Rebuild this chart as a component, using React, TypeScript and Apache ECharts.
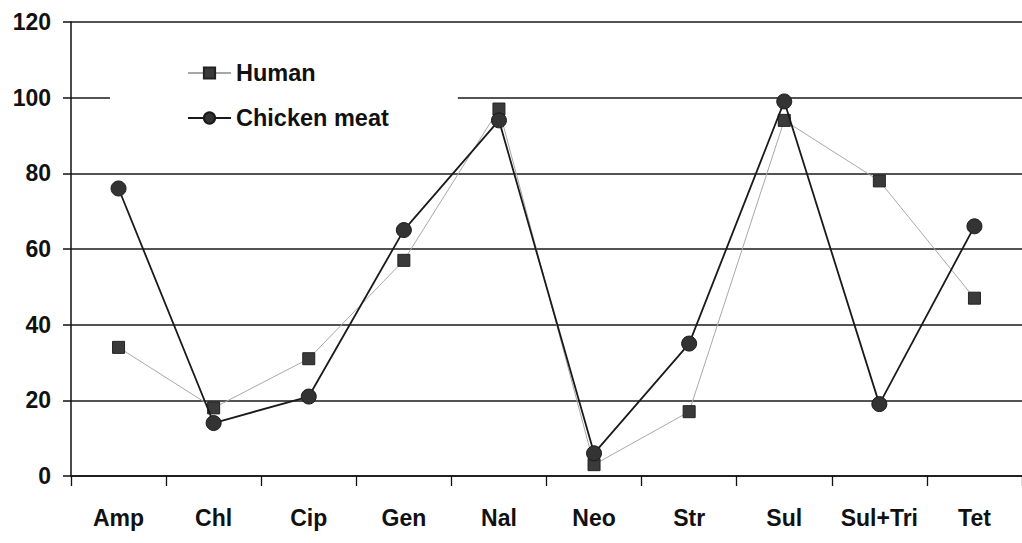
import React, { useEffect, useRef } from "react";
import * as echarts from "echarts";

const categories = ["Amp", "Chl", "Cip", "Gen", "Nal", "Neo", "Str", "Sul", "Sul+Tri", "Tet"];
const humanValues = [34, 18, 31, 57, 97, 3, 17, 94, 78, 47];
const chickenValues = [76, 14, 21, 65, 94, 6, 35, 99, 19, 66];
const yTicks = { min: 0, max: 120, interval: 20 };

const REG = '"Liberation Sans", Arial, sans-serif';

export default function App() {
  const ref = useRef<HTMLDivElement>(null);
  useEffect(() => {
    if (!ref.current) return;
    const chart = echarts.init(ref.current, undefined, { renderer: "svg" });
    chart.setOption({
      animation: false,
      backgroundColor: "#ffffff",
      grid: { left: 71, right: -6, top: 22, bottom: 67, containLabel: false },
      legend: {
        orient: "vertical",
        left: 110,
        top: 50,
        padding: [10, 69, 10, 77],
        backgroundColor: "#ffffff",
        itemWidth: 43,
        itemHeight: 14,
        itemGap: 19,
        textStyle: { fontFamily: REG, fontWeight: "bold", fontSize: 23.5, color: "#111", lineHeight: 26 },
        data: ["Human", "Chicken meat"],
      },
      xAxis: {
        type: "category",
        data: categories,
        boundaryGap: true,
        axisLine: { lineStyle: { color: "#111", width: 1.5 } },
        axisTick: { show: true, interval: 0, length: 10, inside: false, lineStyle: { color: "#111", width: 1.3 } },
        axisLabel: { interval: 0, fontFamily: REG, fontWeight: "bold", fontSize: 23, color: "#111", margin: 30 },
        splitLine: { show: false },
      },
      yAxis: {
        type: "value",
        min: yTicks.min,
        max: yTicks.max,
        interval: yTicks.interval,
        axisLine: { show: true, lineStyle: { color: "#111", width: 1.5 } },
        axisTick: { show: true, length: 8, lineStyle: { color: "#111", width: 1.5 } },
        axisLabel: { fontFamily: REG, fontWeight: "bold", fontSize: 23, color: "#111", margin: 20 },
        splitLine: { show: true, lineStyle: { color: "#1a1a1a", width: 1.5 } },
      },
      series: [
        {
          name: "Human",
          type: "line",
          data: humanValues,
          symbol: "rect",
          symbolSize: 12,
          itemStyle: { color: "#3a3a3a", borderColor: "#222", borderWidth: 1 },
          lineStyle: { color: "#a8a8a8", width: 1 },
          z: 3,
        },
        {
          name: "Chicken meat",
          type: "line",
          data: chickenValues,
          symbol: "circle",
          symbolSize: 15,
          itemStyle: { color: "#333333", borderColor: "#1a1a1a", borderWidth: 1 },
          lineStyle: { color: "#1a1a1a", width: 1.8 },
          z: 4,
        },
      ],
    });
    return () => chart.dispose();
  }, []);
  return (
    <div
      ref={ref}
      style={{ position: "fixed", left: 0, top: 0, width: 1022, height: 543 }}
    />
  );
}
